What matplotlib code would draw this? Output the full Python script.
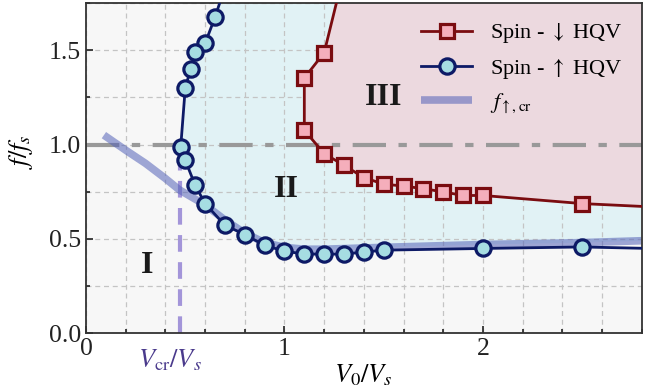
import matplotlib
matplotlib.use("Agg")
import matplotlib.pyplot as plt
import numpy as np

plt.rcParams['font.family'] = ['Liberation Serif', 'DejaVu Serif']
plt.rcParams['mathtext.fontset'] = 'stix'

# Spin-up HQV boundary (circles)
up_x = [0.72, 0.65, 0.60, 0.55, 0.527, 0.50, 0.477, 0.50, 0.55, 0.60, 0.70, 0.80, 0.90,
        1.00, 1.10, 1.20, 1.30, 1.40, 1.50, 2.00, 2.50, 2.80]
up_y = [1.90, 1.675, 1.537, 1.49, 1.40, 1.30, 0.986, 0.917, 0.784, 0.687, 0.572, 0.523, 0.465,
        0.435, 0.419, 0.419, 0.419, 0.43, 0.44, 0.449, 0.457, 0.45]
up_marked = list(range(1, 21))

# Spin-down HQV boundary (squares)
dn_x = [1.32, 1.20, 1.10, 1.10, 1.20, 1.30, 1.40, 1.50, 1.60, 1.70, 1.80, 1.90, 2.00, 2.50, 2.80]
dn_y = [2.00, 1.487, 1.353, 1.076, 0.952, 0.89, 0.825, 0.79, 0.78, 0.766, 0.749, 0.73, 0.73,
        0.687, 0.672]
dn_marked = list(range(1, 14))

# critical frequency f_up,cr
cr_x = [0.09, 0.20, 0.30, 0.40, 0.47, 0.60, 0.70, 0.80, 0.90, 1.00, 1.10, 1.20, 1.50, 2.00, 2.50, 2.80]
cr_y = [1.05, 0.97, 0.90, 0.82, 0.76, 0.68, 0.60, 0.53, 0.48, 0.455, 0.445, 0.445, 0.455, 0.47, 0.48, 0.49]

v_cr = 0.474

fig, ax = plt.subplots(figsize=(6.67, 3.91), dpi=100)
fig.subplots_adjust(left=0.129, right=0.962, top=0.992, bottom=0.148)

ax.set_xlim(0, 2.8)
ax.set_ylim(0, 1.75)
ax.set_facecolor('#f7f7f7')

# Region II fill (cyan)
upx = np.array(up_x); upy = np.array(up_y)
left_idx = [i for i in range(len(up_x)) if i <= 9]
poly_x = list(upx[left_idx]) + [x for x in cr_x if x > 0.6] + [2.8, up_x[0]]
poly_y = list(upy[left_idx]) + [y for x, y in zip(cr_x, cr_y) if x > 0.6] + [2.0, 2.0]
ax.fill(poly_x, poly_y, color='#e1f2f5', zorder=0.5, lw=0)

# Region III fill (pink)
p3x = list(dn_x) + [2.8]
p3y = list(dn_y) + [2.0]
ax.fill(p3x, p3y, color='#ecd9df', zorder=0.6, lw=0)

ax.grid(True, which='both', ls=(0, (4, 3)), color='#c4c4c4', lw=0.9, zorder=0.8)
ax.set_axisbelow(True)
ax.set_xticks([0, 1, 2])
ax.set_xticks(np.arange(0, 2.81, 0.2), minor=True)
ax.set_yticks([0.0, 0.5, 1.0, 1.5])
ax.set_yticks(np.arange(0, 1.76, 0.25), minor=True)
ax.set_yticklabels(['0.0', '0.5', '1.0', '1.5'])
ax.tick_params(which='both', direction='in', labelsize=18.5, length=5, width=1.2, colors='#222222')
ax.tick_params(which='minor', length=3)
for s in ax.spines.values():
    s.set_linewidth(1.3)
    s.set_color('#333333')

# horizontal dash-dot at f = f_s
ax.axhline(1.0, color='#999999', lw=3, ls=(0, (8, 3, 2, 3)), zorder=1.5)

# f_up,cr line
ax.plot(cr_x, cr_y, color='#5462b8', alpha=0.55, lw=5.5, solid_capstyle='butt', zorder=2)

# V_cr vertical dashed
ax.plot([v_cr, v_cr], [0, 0.91], color='#a395d9', lw=3, ls=(0, (4, 2.5)), zorder=1.8)

# curves
ax.plot(dn_x, dn_y, color='#7a0c10', lw=2, zorder=3)
ax.plot(np.array(dn_x)[dn_marked], np.array(dn_y)[dn_marked], ls='none', marker='s', ms=10,
        mfc='#f5aebb', mec='#7a0c10', mew=2.3, zorder=4)
ax.plot(up_x, up_y, color='#0d1a66', lw=2, zorder=3)
ax.plot(upx[up_marked], upy[up_marked], ls='none', marker='o', ms=11,
        mfc='#a6dde2', mec='#0d1a66', mew=2.3, zorder=4)

# legend proxies
h_dn, = ax.plot([], [], color='#7a0c10', lw=2, marker='s', ms=10, mfc='#f5aebb', mec='#7a0c10', mew=2.3)
h_up, = ax.plot([], [], color='#0d1a66', lw=2, marker='o', ms=11, mfc='#a6dde2', mec='#0d1a66', mew=2.3)
h_cr, = ax.plot([], [], color='#5462b8', alpha=0.55, lw=5.5, solid_capstyle='butt')
leg = ax.legend([h_dn, h_up, h_cr],
                [r'Spin - $\downarrow$ HQV', r'Spin - $\uparrow$ HQV', r'$f_{\uparrow,\mathrm{cr}}$'],
                loc='upper right', frameon=False, fontsize=16, handlelength=2.3,
                borderaxespad=0.2, labelspacing=0.5, handletextpad=0.8,
                bbox_to_anchor=(0.99, 0.985))

# region labels
ax.text(0.31, 0.36, 'I', fontsize=23, fontweight='bold', ha='center', va='center', color='#1a1a1a')
ax.text(1.01, 0.76, 'II', fontsize=23, fontweight='bold', ha='center', va='center', color='#1a1a1a')
ax.text(1.50, 1.25, 'III', fontsize=23, fontweight='bold', ha='center', va='center', color='#1a1a1a')

ax.set_xlabel(r'$V_0/V_s$', fontsize=19, labelpad=2)
ax.set_ylabel(r'$f/f_s$', fontsize=19)
ax.yaxis.set_label_coords(-0.092, 0.55)

ax.text(0.425, -0.145, r'$V_{\mathrm{cr}}/V_s$', fontsize=19, color='#4a3a8c', ha='center', va='center',
        transform=ax.transData, clip_on=False)

fig.savefig('out.png', dpi=100)
